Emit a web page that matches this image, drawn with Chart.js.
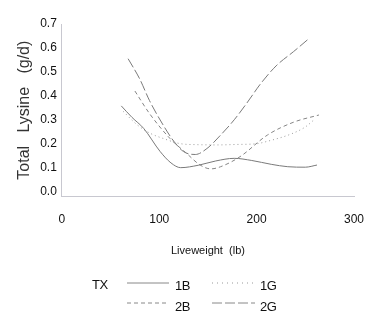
<!DOCTYPE html>
<html>
<head>
<meta charset="utf-8">
<script src="https://cdn.jsdelivr.net/npm/chart.js@4/dist/chart.umd.min.js"></script>
<style>
  html, body { margin: 0; padding: 0; background: #fff; }
  #wrap { position: relative; width: 386px; height: 332px; }
  #c { position: absolute; left: 0; top: 0; }
  .lg { position: absolute; font-family: "Liberation Sans", Arial, sans-serif; font-size: 13px; color: #111; line-height: 13px; letter-spacing: -0.5px; }
  svg.sw { position: absolute; }
</style>
</head>
<body>
<div id="wrap">
  <canvas id="c" width="386" height="332"></canvas>
  <div class="lg" style="left:92px; top:278px;">TX</div>
  <svg class="sw" style="left:127px; top:280px;" width="44" height="6"><line x1="0" y1="3" x2="42" y2="3" stroke="#888" stroke-width="1"/></svg>
  <div class="lg" style="left:175px; top:279px;">1B</div>
  <svg class="sw" style="left:212px; top:280px;" width="44" height="6"><line x1="0" y1="3" x2="42" y2="3" stroke="#999" stroke-width="1" stroke-dasharray="1,4"/></svg>
  <div class="lg" style="left:260px; top:279px;">1G</div>
  <svg class="sw" style="left:127px; top:300px;" width="44" height="6"><line x1="0" y1="3" x2="40" y2="3" stroke="#888" stroke-width="1" stroke-dasharray="4,3"/></svg>
  <div class="lg" style="left:175px; top:300px;">2B</div>
  <svg class="sw" style="left:212px; top:300px;" width="44" height="6"><line x1="0" y1="3" x2="43" y2="3" stroke="#888" stroke-width="1" stroke-dasharray="10,3"/></svg>
  <div class="lg" style="left:260px; top:300px;">2G</div>
</div>
<script>
// Treatment series: liveweight (lb) and total lysine (g/d)
const seriesNames = ["1B", "1G", "2B", "2G"];

const weight1B = [61, 72, 84, 101, 112, 122, 140, 158, 177, 195, 215, 232, 250, 262];
const lysine1B = [0.358, 0.31, 0.264, 0.167, 0.12, 0.10, 0.11, 0.128, 0.139, 0.13, 0.114, 0.104, 0.102, 0.111];

const weight1G = [63, 77, 91, 104, 122, 140, 160, 180, 200, 211, 235, 250, 259];
const lysine1G = [0.335, 0.28, 0.243, 0.222, 0.2, 0.196, 0.195, 0.197, 0.2, 0.21, 0.24, 0.27, 0.30];

const weight2B = [75, 90, 111, 128, 142, 153, 163, 183, 211, 238, 264];
const lysine2B = [0.42, 0.326, 0.222, 0.16, 0.111, 0.095, 0.104, 0.146, 0.236, 0.29, 0.32];

const weight2G = [68, 80, 90, 104, 115, 125, 137, 149, 163, 177, 190, 204, 220, 238, 254];
const lysine2G = [0.555, 0.47, 0.38, 0.278, 0.21, 0.167, 0.155, 0.18, 0.236, 0.30, 0.37, 0.45, 0.525, 0.585, 0.64];

const xTicks = [0, 100, 200, 300];
const yTicks = [0.0, 0.1, 0.2, 0.3, 0.4, 0.5, 0.6, 0.7];

function pts(xs, ys) { return xs.map((x, i) => ({ x: x, y: ys[i] })); }

const styles = {
  "1B": [],
  "1G": [1, 3],
  "2B": [4, 3],
  "2G": [10, 3]
};
const colors = { "1B": '#7a7a7a', "1G": '#9a9a9a', "2B": '#858585', "2G": '#7a7a7a' };
const dataMap = {
  "1B": pts(weight1B, lysine1B),
  "1G": pts(weight1G, lysine1G),
  "2B": pts(weight2B, lysine2B),
  "2G": pts(weight2G, lysine2G)
};

const sans = "'Liberation Sans', Arial, sans-serif";

new Chart(document.getElementById('c'), {
  type: 'line',
  data: {
    datasets: seriesNames.map(n => ({
      label: n,
      data: dataMap[n],
      borderColor: colors[n],
      borderWidth: 1,
      borderDash: styles[n],
      pointRadius: 0,
      fill: false,
      cubicInterpolationMode: 'monotone'
    }))
  },
  options: {
    responsive: false,
    animation: false,
    layout: { padding: { left: 8, right: 32, top: 24, bottom: 74 } },
    plugins: { legend: { display: false }, tooltip: { enabled: false } },
    scales: {
      x: {
        type: 'linear',
        min: 0, max: 300,
        afterBuildTicks: s => { s.ticks = xTicks.map(v => ({ value: v })); },
        grid: { display: false, drawTicks: false },
        border: { display: true, color: '#c8c8d0', dash: [1, 5] },
        ticks: { padding: 16, color: '#111', font: { family: sans, size: 12 } },
        title: { display: true, text: 'Liveweight  (lb)', color: '#111', padding: { top: 2, bottom: 0 }, font: { family: sans, size: 11 } }
      },
      y: {
        type: 'linear',
        min: -0.02, max: 0.7,
        afterBuildTicks: s => { s.ticks = yTicks.map(v => ({ value: v })); },
        grid: { display: false, drawTicks: false },
        border: { display: true, color: '#c8c8d0', dash: [1, 5] },
        ticks: { padding: 5, color: '#111', font: { family: sans, size: 12 }, callback: v => v.toFixed(1) },
        title: { display: true, text: 'Total   Lysine   (g/d)', color: '#333', padding: { top: 7, bottom: 1 }, font: { family: sans, size: 16 } }
      }
    }
  }
});
</script>
</body>
</html>
